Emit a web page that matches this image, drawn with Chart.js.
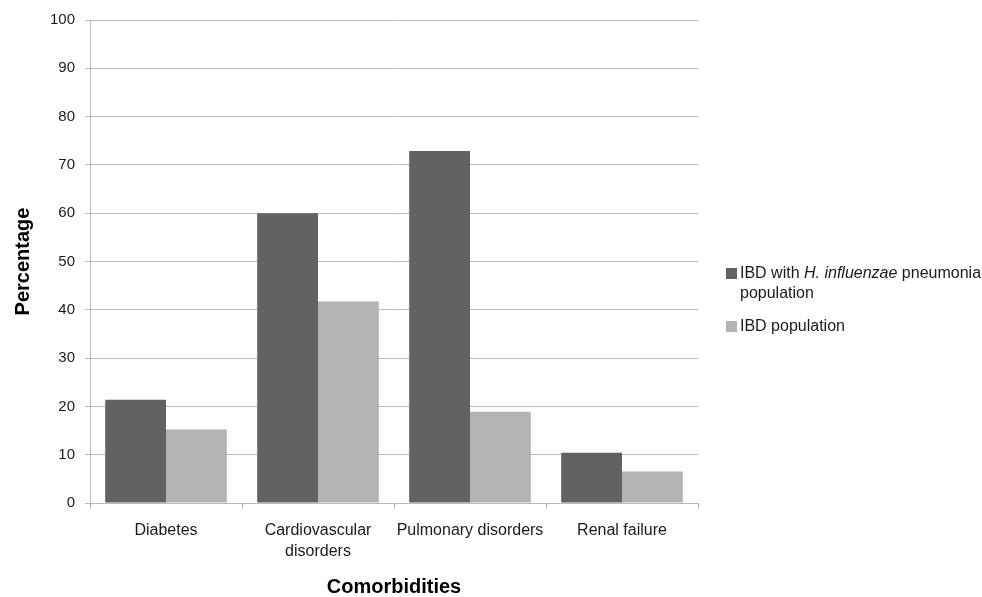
<!DOCTYPE html>
<html>
<head>
<meta charset="utf-8">
<script src="https://cdn.jsdelivr.net/npm/chart.js@4.4.0/dist/chart.umd.min.js"></script>
<style>
  body { margin: 0; background: #fff; }
  #wrap { position: relative; width: 982px; height: 597px; }
  .item { position: absolute; left: 726px; font: 16px "Liberation Sans", Arial, sans-serif; line-height: 20px; color: #1a1a1a; }
  .item .box { position: absolute; left: 0; top: 5px; width: 11px; height: 11px; }
  .item .txt { margin-left: 14px; white-space: nowrap; }
</style>
</head>
<body>
<div id="wrap">
  <canvas id="myChart" width="982" height="597"></canvas>
</div>
<script>
var categories = ['Diabetes', ['Cardiovascular', 'disorders'], 'Pulmonary disorders', 'Renal failure'];
var hinfValues = [21.4, 60.0, 72.9, 10.4];
var ibdValues = [15.2, 41.7, 18.9, 6.5];
var yTicks = [0, 10, 20, 30, 40, 50, 60, 70, 80, 90, 100];

var darkGray = '#626262';
var lightGray = '#b3b3b3';
var lineGray = '#b8b8b8';
var font = '"Liberation Sans", Arial, sans-serif';

var ctx = document.getElementById('myChart').getContext('2d');
var myChart = new Chart(ctx, {
    type: 'bar',
    data: {
        labels: categories,
        datasets: [{
            label: 'IBD with H. influenzae pneumonia population',
            data: hinfValues,
            backgroundColor: darkGray,
            categoryPercentage: 0.8,
            barPercentage: 1.0
        }, {
            label: 'IBD population',
            data: ibdValues,
            backgroundColor: lightGray,
            categoryPercentage: 0.8,
            barPercentage: 1.0
        }]
    },
    options: {
        responsive: false,
        animation: false,
        layout: { padding: { top: 20, right: 284, left: 0, bottom: 0 } },
        plugins: {
            legend: { display: false },
            tooltip: { enabled: false }
        },
        scales: {
            x: {
                offset: true,
                grid: { offset: true, drawOnChartArea: false, color: lineGray, tickLength: 6 },
                border: { color: lineGray },
                ticks: { color: '#1a1a1a', padding: 11, maxRotation: 0, font: { family: font, size: 16, lineHeight: 1.31 } },
                title: {
                    display: true, text: 'Comorbidities', color: '#000',
                    padding: { top: 0, bottom: 0 },
                    font: { family: font, size: 20, weight: 'bold', lineHeight: 1 }
                },
                afterFit: function (scale) { scale.height = 94; }
            },
            y: {
                min: 0,
                max: 100,
                afterBuildTicks: function (scale) {
                    scale.ticks = yTicks.map(function (v) { return { value: v }; });
                },
                grid: { color: lineGray, tickLength: 5 },
                border: { color: lineGray },
                ticks: { color: '#1a1a1a', padding: 10, font: { family: font, size: 15 } },
                title: {
                    display: true, text: 'Percentage', color: '#000',
                    padding: { top: 13, bottom: 0 },
                    font: { family: font, size: 20, weight: 'bold', lineHeight: 1 }
                },
                afterFit: function (scale) { scale.width = 90; }
            }
        }
    }
});

// legend with the italic species name, built from the datasets
var legendHtml = ['IBD with <i>H. influenzae</i> pneumonia<br>population', 'IBD population'];
var legendTops = [263, 316];
var wrap = document.getElementById('wrap');
myChart.data.datasets.forEach(function (ds, i) {
    var item = document.createElement('div');
    item.className = 'item';
    item.style.top = legendTops[i] + 'px';
    item.innerHTML = '<div class="box" style="background:' + ds.backgroundColor + '"></div>' +
        '<div class="txt">' + legendHtml[i] + '</div>';
    wrap.appendChild(item);
});
</script>
</body>
</html>
